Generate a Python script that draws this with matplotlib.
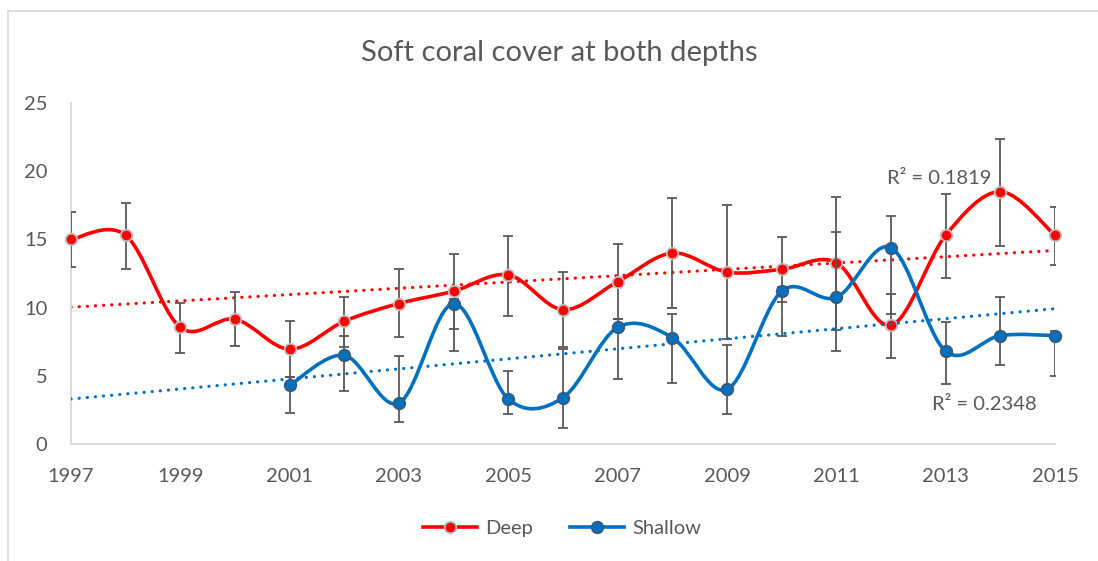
import matplotlib
matplotlib.use('agg')
import matplotlib.pyplot as plt
from matplotlib.path import Path
from matplotlib.patches import PathPatch, Rectangle
from matplotlib.lines import Line2D
import numpy as np

plt.rcParams['font.family'] = ['Lato', 'DejaVu Sans']

TEXT_GRAY = '#595959'
AXIS_GRAY = '#D9D9D9'
DEEP_RED = '#FF0000'
SHALLOW_BLUE = '#0070C0'

# soft coral cover (%) per survey year
deep_years = list(range(1997, 2016))
deep_cover = [15.0, 15.3, 8.55, 9.15, 6.95, 9.0, 10.3, 11.2, 12.4, 9.85,
              11.9, 14.0, 12.6, 12.8, 13.3, 8.7, 15.3, 18.5, 15.3]
deep_err_minus = [2.0, 2.5, 1.9, 2.0, 2.05, 1.9, 2.45, 2.8, 3.05, 2.72,
                  2.76, 4.05, 4.9, 2.37, 4.95, 2.42, 3.1, 3.96, 2.18]
deep_err_plus = [2.0, 2.4, 1.8, 2.0, 2.05, 1.78, 2.5, 2.73, 2.87, 2.76,
                 2.74, 4.0, 4.9, 2.35, 4.8, 2.3, 3.0, 3.84, 2.08]

shallow_years = list(range(2001, 2016))
shallow_cover = [4.3, 6.5, 3.0, 10.3, 3.3, 3.4, 8.55, 7.8, 4.0, 11.2,
                 10.75, 14.4, 6.8, 7.95, 7.95]
shallow_err_minus = [2.05, 2.64, 1.4, 3.46, 1.13, 2.2, 3.81, 3.32, 1.8, 3.25,
                     3.91, 4.84, 2.4, 2.16, 2.95]
shallow_err_plus = [0.6, 1.42, 3.45, 0.3, 2.08, 3.57, 0.65, 1.72, 3.26, 0.3,
                    4.82, 2.3, 2.12, 2.86, 0.3]

r2_labels = {'deep': 'R² = 0.1819', 'shallow': 'R² = 0.2348'}
x_ticks = list(range(1997, 2016, 2))
y_ticks = [0, 5, 10, 15, 20, 25]


def smooth_path(xs, ys):
    # Catmull-Rom style cubic Bezier through every point (spreadsheet "smoothed line")
    pts = np.column_stack([xs, ys]).astype(float)
    n = len(pts)
    verts = [pts[0]]
    codes = [Path.MOVETO]
    for i in range(n - 1):
        p_prev = pts[max(i - 1, 0)]
        p0 = pts[i]
        p1 = pts[i + 1]
        p_next = pts[min(i + 2, n - 1)]
        c1 = p0 + (p1 - p_prev) / 6.0
        c2 = p1 - (p_next - p0) / 6.0
        verts += [c1, c2, p1]
        codes += [Path.CURVE4] * 3
    return Path(verts, codes)


def draw_series(ax, xs, ys, err_lo, err_hi, color, edge, z):
    ax.add_patch(PathPatch(smooth_path(xs, ys), facecolor='none', edgecolor=color,
                           lw=2.6, capstyle='round', joinstyle='round', zorder=z))

    # linear trend over the whole axis range
    slope, intercept = np.polyfit(xs, ys, 1)
    tx = np.array([x_ticks[0], x_ticks[-1]])
    ax.plot(tx, slope * tx + intercept, color=color, lw=2.3,
            dashes=(0.05, 2.5), dash_capstyle='round', zorder=z + 0.5)

    ax.errorbar(xs, ys, yerr=[err_lo, err_hi], fmt='none', ecolor=TEXT_GRAY,
                elinewidth=1.3, capsize=3.5, capthick=1.3, zorder=z + 0.6)

    ax.plot(xs, ys, linestyle='none', marker='o', markersize=8.3,
            markerfacecolor=color, markeredgecolor=edge, markeredgewidth=1.3,
            clip_on=False, zorder=z + 0.7)


fig = plt.figure(figsize=(10.98, 5.61), dpi=100)
fig.patches.append(Rectangle((7.5 / 1098, -0.1), 1.2, 1.1 - 10.5 / 561,
                             transform=fig.transFigure, facecolor='none',
                             edgecolor=AXIS_GRAY, lw=1.3))

ax = fig.add_axes([71 / 1098, (561 - 444) / 561, 984 / 1098, 341 / 561])

draw_series(ax, deep_years, deep_cover, deep_err_minus, deep_err_plus,
            DEEP_RED, '#BFBFBF', 2)
draw_series(ax, shallow_years, shallow_cover, shallow_err_minus, shallow_err_plus,
            SHALLOW_BLUE, '#3A5A7A', 3)

ax.text(2012.88, 19.43, r2_labels['deep'], color=TEXT_GRAY, fontsize=14.5,
        ha='center', va='center', zorder=6)
ax.text(2013.71, 2.86, r2_labels['shallow'], color=TEXT_GRAY, fontsize=14.5,
        ha='center', va='center', zorder=6)

ax.set_xlim(x_ticks[0], x_ticks[-1])
ax.set_ylim(0, 25)
ax.set_xticks(x_ticks)
ax.set_yticks(y_ticks)
ax.tick_params(axis='both', length=0, labelsize=14.5, labelcolor=TEXT_GRAY)
ax.tick_params(axis='x', pad=17)
ax.tick_params(axis='y', pad=17)

for side in ['top', 'right']:
    ax.spines[side].set_visible(False)
for side in ['left', 'bottom']:
    ax.spines[side].set_color(AXIS_GRAY)
    ax.spines[side].set_linewidth(1.3)
ax.patch.set_alpha(0)

fig.text(559 / 1098, 1 - 53 / 561, 'Soft coral cover at both depths',
         color=TEXT_GRAY, fontsize=21, ha='center', va='center')

handles = [
    Line2D([0], [0], color=DEEP_RED, lw=2.6, marker='o', markersize=8.3,
           markerfacecolor=DEEP_RED, markeredgecolor='#BFBFBF', markeredgewidth=1.3),
    Line2D([0], [0], color=SHALLOW_BLUE, lw=2.6, marker='o', markersize=8.3,
           markerfacecolor=SHALLOW_BLUE, markeredgecolor='#3A5A7A', markeredgewidth=1.3),
]
fig.legend(handles, ['Deep', 'Shallow'], loc='center', ncol=2, frameon=False,
           bbox_to_anchor=(562 / 1098, 1 - 528 / 561), fontsize=14.5,
           labelcolor=TEXT_GRAY, handlelength=2.7, handletextpad=0.4,
           columnspacing=1.8)

fig.savefig('out.png', dpi=100)
